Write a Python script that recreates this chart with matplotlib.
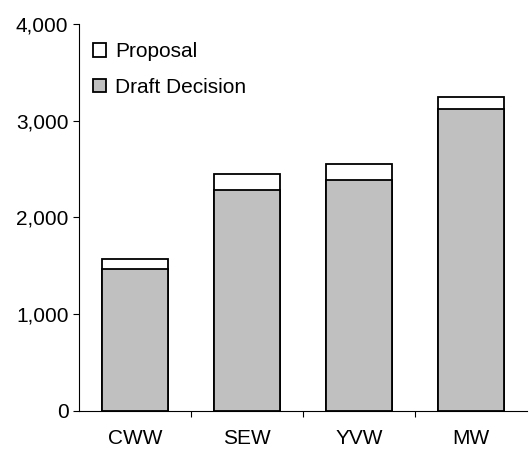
import matplotlib
matplotlib.use('Agg')
import matplotlib.pyplot as plt
import numpy as np

# values
companies = ['CWW', 'SEW', 'YVW', 'MW']
proposal = [1572, 2445, 2548, 3247]
draft_decision = [1468, 2282, 2383, 3123]

plt.rcParams['font.family'] = ['Liberation Sans', 'DejaVu Sans']
FS = 15

fig = plt.figure(figsize=(5.29, 4.5), dpi=100)
ax = fig.add_axes([0.149, 0.0873, 0.847, 0.8594])

x = np.arange(len(companies))
ax.bar(x, proposal, width=0.59, color='white', edgecolor='black', linewidth=1.3, label='Proposal')
ax.bar(x, draft_decision, width=0.59, color='#c0c0c0', edgecolor='black', linewidth=1.3,
       label='Draft Decision')

ax.set_xlim(-0.5, len(companies) - 0.5)
ax.set_ylim(0, 4000)
ax.set_yticks([0, 1000, 2000, 3000, 4000])
ax.set_yticklabels(['0', '1,000', '2,000', '3,000', '4,000'])

ax.set_xticks(x)
ax.set_xticklabels(companies)
ax.set_xticks(np.arange(0.5, len(companies) - 0.5, 1), minor=True)
ax.tick_params(axis='x', which='major', length=0, pad=13, labelsize=FS)
ax.tick_params(axis='x', which='minor', length=4.5, width=0.8, direction='out')
ax.tick_params(axis='y', length=4.5, width=0.8, direction='out', labelsize=FS, pad=3)

for s in ['top', 'right']:
    ax.spines[s].set_visible(False)
ax.spines['left'].set_linewidth(0.8)
ax.spines['bottom'].set_linewidth(0.8)

ax.legend(loc='upper left', bbox_to_anchor=(0.0, 0.99), frameon=False, fontsize=FS,
          handlelength=0.6, handleheight=0.6, handletextpad=0.45, labelspacing=0.78,
          borderaxespad=0.3)

plt.savefig('out.png', dpi=100)
